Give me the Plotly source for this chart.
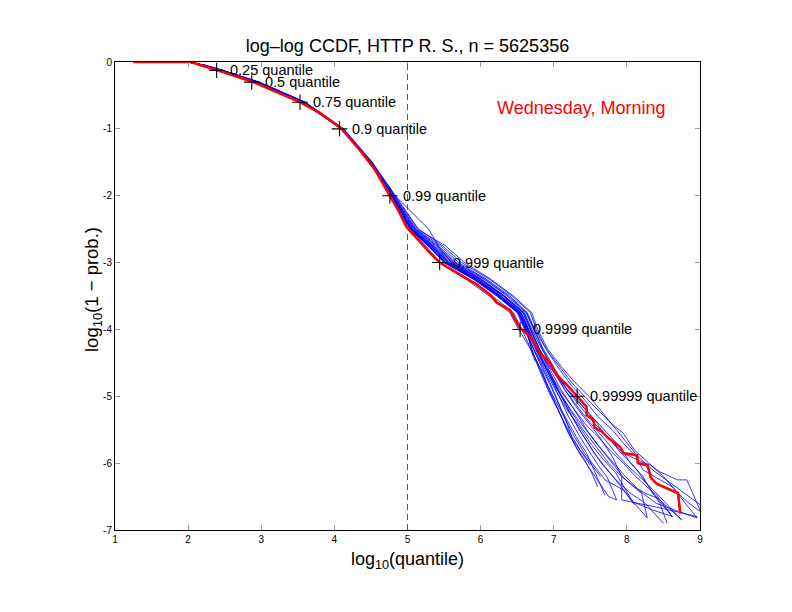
import plotly.graph_objects as go

FONT = "Liberation Sans, Arial, Helvetica, sans-serif"

RED_X = [1.25, 2.05, 2.16, 2.39, 2.89, 3.53, 3.80, 4.09, 4.35, 4.56, 4.66, 4.76, 4.87,
         4.99, 5.17, 5.31, 5.44, 5.76, 5.95, 6.13, 6.22, 6.40, 6.54, 6.68, 6.81, 6.95,
         7.04, 7.18, 7.32, 7.45, 7.45, 7.54, 7.56, 7.66, 7.73, 7.91, 7.95, 8.14, 8.15,
         8.28, 8.33, 8.41, 8.70, 8.73]
RED_Y = [0.0, 0.0, -0.045, -0.12, -0.30, -0.60, -0.76, -0.99, -1.32, -1.62, -1.81, -2.00, -2.21,
         -2.47, -2.69, -2.86, -3.00, -3.21, -3.33, -3.48, -3.60, -3.71, -3.98, -4.11, -4.35, -4.50,
         -4.68, -4.83, -5.01, -5.16, -5.28, -5.35, -5.47, -5.53, -5.61, -5.76, -5.85, -5.88, -6.00,
         -6.03, -6.22, -6.31, -6.45, -6.75]

# ---- the other (blue) curves: shared y levels for the body, own tails ----
BLUE_BODY_Y = [0.0, -0.05, -0.12, -0.3, -0.6, -1.0, -1.5, -2.0, -2.5, -2.75, -3.0, -3.25, -3.5, -3.75, -4.0]
BLUE_BODY_X = [
    [2.0, 2.22, 2.44, 2.95, 3.58, 4.11, 4.49, 4.78, 5.04, 5.30, 5.52, 5.92, 6.25, 6.52, 6.62],
    [2.0, 2.21, 2.43, 2.94, 3.57, 4.10, 4.49, 4.77, 5.03, 5.28, 5.50, 5.90, 6.22, 6.50, 6.60],
    [2.0, 2.23, 2.45, 2.96, 3.59, 4.12, 4.50, 4.79, 5.06, 5.33, 5.58, 5.97, 6.30, 6.56, 6.66],
    [2.0, 2.22, 2.44, 2.94, 3.57, 4.10, 4.49, 4.77, 5.01, 5.25, 5.45, 5.84, 6.16, 6.45, 6.56],
    [2.0, 2.23, 2.45, 2.95, 3.58, 4.11, 4.50, 4.80, 5.08, 5.36, 5.62, 6.00, 6.32, 6.58, 6.68],
    [2.0, 2.22, 2.43, 2.94, 3.57, 4.10, 4.49, 4.78, 5.05, 5.31, 5.55, 5.95, 6.27, 6.54, 6.64],
    [2.0, 2.24, 2.46, 2.97, 3.60, 4.12, 4.51, 4.81, 5.10, 5.40, 5.65, 6.05, 6.36, 6.62, 6.72],
    [2.0, 2.21, 2.42, 2.93, 3.56, 4.10, 4.49, 4.77, 5.03, 5.29, 5.50, 5.91, 6.23, 6.51, 6.61],
    [2.0, 2.22, 2.44, 2.95, 3.58, 4.11, 4.50, 4.79, 5.07, 5.34, 5.57, 5.96, 6.28, 6.55, 6.65],
    [2.0, 2.23, 2.45, 2.96, 3.59, 4.12, 4.51, 4.82, 5.12, 5.45, 5.70, 6.08, 6.40, 6.64, 6.74],
    [2.0, 2.22, 2.44, 2.95, 3.58, 4.11, 4.50, 4.80, 5.09, 5.38, 5.63, 6.02, 6.33, 6.60, 6.70],
    [2.0, 2.21, 2.43, 2.93, 3.56, 4.10, 4.49, 4.78, 5.04, 5.30, 5.53, 5.93, 6.25, 6.53, 6.63],
    [2.0, 2.24, 2.46, 2.97, 3.60, 4.13, 4.52, 4.83, 5.15, 5.48, 5.74, 6.12, 6.43, 6.68, 6.76],
    [2.0, 2.22, 2.43, 2.94, 3.57, 4.10, 4.49, 4.77, 5.00, 5.23, 5.43, 5.80, 6.12, 6.40, 6.52],
    [2.0, 2.23, 2.45, 2.96, 3.59, 4.11, 4.50, 4.79, 5.06, 5.33, 5.56, 5.95, 6.27, 6.55, 6.65],
    [2.0, 2.22, 2.44, 2.95, 3.58, 4.11, 4.50, 4.81, 5.11, 5.42, 5.67, 6.06, 6.38, 6.63, 6.73],
    [2.0, 2.21, 2.42, 2.93, 3.56, 4.09, 4.48, 4.77, 5.03, 5.28, 5.51, 5.91, 6.24, 6.52, 6.62],
    [2.0, 2.23, 2.45, 2.96, 3.59, 4.12, 4.51, 4.82, 5.14, 5.52, 5.78, 6.14, 6.45, 6.70, 6.78],
    [2.0, 2.22, 2.44, 2.94, 3.57, 4.10, 4.49, 4.78, 5.05, 5.32, 5.54, 5.94, 6.26, 6.54, 6.64],
    [2.0, 2.23, 2.45, 2.96, 3.59, 4.12, 4.51, 4.83, 5.29, 5.42, 5.60, 5.99, 6.31, 6.58, 6.68],
    [2.0, 2.22, 2.43, 2.94, 3.57, 4.10, 4.49, 4.78, 5.06, 5.35, 5.60, 6.00, 6.32, 6.59, 6.69],
    [2.0, 2.21, 2.43, 2.94, 3.57, 4.10, 4.49, 4.77, 5.04, 5.29, 5.52, 5.92, 6.24, 6.52, 6.62],
]
BLUE_TAILS = [
    [(6.70, -4.25), (6.82, -4.5), (6.95, -4.8), (7.09, -5.16), (7.18, -5.4), (7.26, -5.65), (7.38, -5.85), (7.50, -6.03)],
    [(6.72, -4.3), (6.85, -4.6), (7.00, -4.95), (7.10, -5.2), (7.22, -5.43), (7.33, -5.65), (7.45, -5.85), (7.55, -6.1), (7.62, -6.3), (7.70, -6.48)],
    [(6.78, -4.3), (6.90, -4.6), (7.05, -4.95), (7.20, -5.3), (7.36, -5.61), (7.50, -5.85), (7.62, -6.05), (7.73, -6.21), (7.80, -6.4), (7.86, -6.55)],
    [(6.65, -4.2), (6.74, -4.46), (6.84, -4.61), (6.92, -4.85), (7.00, -5.05), (7.10, -5.3), (7.18, -5.5), (7.30, -5.75), (7.42, -5.95), (7.52, -6.15), (7.60, -6.35)],
    [(6.80, -4.3), (6.93, -4.6), (7.08, -4.95), (7.22, -5.25), (7.38, -5.55), (7.55, -5.85), (7.70, -6.05), (7.85, -6.25), (7.95, -6.40), (8.10, -6.60), (8.28, -6.82)],
    [(6.76, -4.3), (6.90, -4.6), (7.05, -4.9), (7.22, -5.2), (7.40, -5.5), (7.58, -5.75), (7.75, -6.0), (7.93, -6.2), (8.10, -6.35), (8.25, -6.45), (8.41, -6.52), (8.62, -6.80)],
    [(6.85, -4.3), (7.00, -4.6), (7.15, -4.9), (7.30, -5.15), (7.48, -5.4), (7.62, -5.6), (7.80, -5.9), (7.93, -6.2), (7.93, -6.55), (8.50, -6.68), (8.96, -6.80)],
    [(6.73, -4.3), (6.88, -4.6), (7.02, -4.9), (7.18, -5.2), (7.35, -5.45), (7.50, -5.7), (7.68, -5.95), (7.85, -6.15), (8.08, -6.58), (8.35, -6.70), (8.63, -6.80)],
    [(6.78, -4.3), (6.97, -4.6), (7.15, -4.85), (7.32, -5.05), (7.48, -5.25), (7.60, -5.42), (7.70, -5.58), (7.95, -5.85), (8.14, -5.95), (8.32, -6.03), (8.45, -6.13), (8.69, -6.25), (8.82, -6.25), (9.00, -6.70), (9.05, -6.8)],
    [(6.90, -4.3), (7.08, -4.6), (7.25, -4.85), (7.42, -5.05), (7.60, -5.3), (7.80, -5.5), (7.95, -5.7), (8.12, -5.9), (8.22, -6.10), (8.45, -6.25), (8.63, -6.36), (8.80, -6.6), (8.96, -6.82)],
    [(6.84, -4.3), (7.00, -4.6), (7.18, -4.9), (7.35, -5.1), (7.52, -5.3), (7.70, -5.5), (7.90, -5.75), (8.05, -6.0), (8.22, -6.2), (8.35, -6.45), (8.55, -6.65), (8.75, -6.85)],
    [(6.75, -4.3), (6.90, -4.6), (7.05, -4.9), (7.20, -5.2), (7.35, -5.5), (7.50, -5.75), (7.65, -6.0), (7.85, -6.25), (8.05, -6.45), (8.25, -6.6), (8.50, -6.9)],
    [(6.90, -4.3), (7.08, -4.55), (7.25, -4.8), (7.42, -5.0), (7.60, -5.2), (7.78, -5.4), (7.95, -5.55), (8.10, -5.8), (8.30, -6.0), (8.50, -6.2), (8.70, -6.45), (8.85, -6.6), (9.00, -6.72)],
    [(6.66, -4.25), (6.78, -4.5), (6.90, -4.8), (7.04, -5.1), (7.16, -5.35), (7.28, -5.6), (7.42, -5.85), (7.56, -6.05), (7.70, -6.25), (7.95, -6.40), (8.10, -6.62)],
    [(6.77, -4.3), (6.92, -4.6), (7.08, -4.9), (7.25, -5.15), (7.42, -5.4), (7.60, -5.6), (7.78, -5.82), (7.95, -6.0), (8.12, -6.2), (8.30, -6.38), (8.41, -6.48), (8.62, -6.80)],
    [(6.86, -4.3), (7.02, -4.6), (7.18, -4.9), (7.36, -5.15), (7.55, -5.4), (7.75, -5.62), (7.92, -5.85), (8.10, -6.05), (8.30, -6.35), (8.45, -6.6), (8.55, -6.9)],
    [(6.70, -4.3), (6.80, -4.6), (6.94, -4.95), (7.08, -5.25), (7.22, -5.55), (7.36, -5.8), (7.50, -6.0), (7.64, -6.2)],
    [(6.92, -4.3), (7.10, -4.55), (7.28, -4.78), (7.48, -5.0), (7.65, -5.22), (7.82, -5.45), (7.98, -5.68), (8.15, -5.9), (8.35, -6.1), (8.60, -6.3), (8.80, -6.45), (9.00, -6.62)],
    [(6.76, -4.3), (6.91, -4.6), (7.06, -4.9), (7.23, -5.2), (7.40, -5.45), (7.58, -5.7), (7.78, -5.95), (7.98, -6.2), (8.18, -6.42), (8.40, -6.6), (8.70, -6.72), (8.96, -6.82)],
    [(6.80, -4.3), (6.95, -4.6), (7.10, -4.9), (7.28, -5.2), (7.45, -5.5), (7.62, -5.75), (7.80, -6.0), (7.98, -6.25), (8.20, -6.45), (8.28, -6.82)],
    [(6.81, -4.3), (6.98, -4.6), (7.15, -4.9), (7.32, -5.15), (7.50, -5.4), (7.68, -5.62), (7.85, -5.85), (8.02, -6.05), (8.22, -6.25), (8.45, -6.5), (8.75, -6.85)],
    [(6.70, -4.3), (6.82, -4.62), (6.95, -4.95), (7.08, -5.25), (7.20, -5.55), (7.35, -5.85), (7.50, -6.1), (7.62, -6.3), (7.75, -6.5), (7.86, -6.55)],
]

# ---- quantile markers ----
Q_LABELS = ["0.25 quantile", "0.5 quantile", "0.75 quantile", "0.9 quantile",
            "0.99 quantile", "0.999 quantile", "0.9999 quantile", "0.99999 quantile"]
Q_X = [2.39, 2.87, 3.53, 4.07, 4.76, 5.44, 6.54, 7.32]
Q_Y = [-0.125, -0.301, -0.602, -1.0, -2.0, -3.0, -4.0, -5.0]

X_TICKS = [1, 2, 3, 4, 5, 6, 7, 8, 9]
X_TICKTEXT = ["1", "2", "3", "4", "5", "6", "7", "8", "9"]
Y_TICKS = [0, -1, -2, -3, -4, -5, -6, -7]
Y_TICKTEXT = ["0", "-1", "-2", "-3", "-4", "-5", "-6", "-7"]

fig = go.Figure()

for bx, tail in zip(BLUE_BODY_X, BLUE_TAILS):
    fig.add_trace(go.Scatter(
        x=bx + [p[0] for p in tail],
        y=BLUE_BODY_Y + [p[1] for p in tail],
        mode="lines", line=dict(color="rgb(0,0,255)", width=0.8),
        showlegend=False, hoverinfo="skip"))

fig.add_trace(go.Scatter(x=RED_X, y=RED_Y, mode="lines",
                         line=dict(color="rgb(255,0,0)", width=2.6),
                         showlegend=False))

fig.add_trace(go.Scatter(x=Q_X, y=Q_Y, mode="markers",
                         marker=dict(symbol="cross-thin", size=11,
                                     line=dict(color="black", width=1.1)),
                         showlegend=False))

# dashed reference line at log10(quantile) = 5
fig.add_vline(x=5, line=dict(color="#555555", width=1, dash="6px,4px"))

for lab, qx, qy in zip(Q_LABELS, Q_X, Q_Y):
    fig.add_annotation(x=qx, y=qy, text=lab, showarrow=False, xanchor="left",
                       yanchor="middle", xshift=11,
                       font=dict(family=FONT, size=14.5, color="black"))

fig.add_annotation(x=7.37, y=-0.69, text="Wednesday, Morning", showarrow=False,
                   xanchor="center", yanchor="middle",
                   font=dict(family=FONT, size=18, color="red"))

# axis titles
fig.add_annotation(xref="paper", yref="paper", x=0.5, y=0, yshift=-17,
                   text="log<sub>10</sub>(quantile)", showarrow=False,
                   xanchor="center", yanchor="top",
                   font=dict(family=FONT, size=18, color="black"))
fig.add_annotation(xref="paper", yref="paper", x=0, y=0.5, xshift=-22, yshift=6,
                   text="log<sub>10</sub>(1 − prob.)", showarrow=False, textangle=-90,
                   xanchor="center", yanchor="middle",
                   font=dict(family=FONT, size=18.5, color="black"))

axis_common = dict(showgrid=False, zeroline=False, showline=True, linecolor="black",
                   linewidth=1, mirror="ticks", ticks="inside", ticklen=5,
                   tickcolor="#999999", tickwidth=1,
                   tickfont=dict(family=FONT, size=10, color="black"))

fig.update_xaxes(range=[1, 9], tickvals=X_TICKS, ticktext=X_TICKTEXT, **axis_common)
fig.update_yaxes(range=[-7, 0], tickvals=Y_TICKS, ticktext=Y_TICKTEXT, **axis_common)

fig.update_layout(
    width=792, height=612,
    margin=dict(l=107, r=100, t=54, b=90),
    paper_bgcolor="white", plot_bgcolor="white",
    title=dict(text="log–log CCDF, HTTP R. S., n = 5625356",
               x=0.5, xref="paper", y=1 - 38 / 612, yref="container",
               xanchor="center", yanchor="middle",
               font=dict(family=FONT, size=18, color="black")),
    font=dict(family=FONT),
)

fig.write_html("out.html")
